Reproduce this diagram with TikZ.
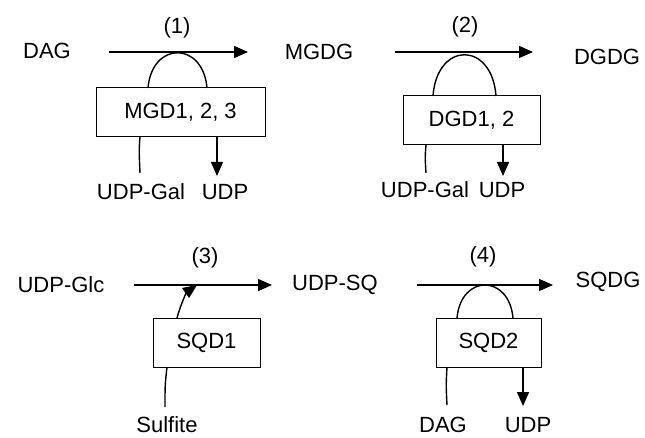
\documentclass[tikz,border=0pt]{standalone}
\usepackage{fontspec}
\setmainfont{Liberation Sans}
\usetikzlibrary{arrows.meta}

\tikzset{
	enzbox/.style={draw,line width=1pt,minimum height=49pt,inner sep=0pt},
	tip/.style={-{Triangle[length=14pt,width=12pt]}},
	lbl/.style={inner sep=0pt}
}

\begin{document}
\begin{tikzpicture}[x=1pt,y=-1pt,line width=1.4pt,font=\fontsize{22}{26}\selectfont]
	\useasboundingbox (0,0) rectangle (645,438);

	% metabolites
	\node (dag) [lbl] at (47,51) {DAG};
	\node (mgdg) [lbl] at (319,52) {MGDG};
	\node (dgdg) [lbl] at (607,57) {DGDG};
	\node (glc) [lbl] at (61,285) {UDP-Glc};
	\node (sq) [lbl] at (335,285) {UDP-SQ};
	\node (sqdg) [lbl] at (608,282) {SQDG};

	% reaction numbers
	\foreach \x/\y/\n in {177/28/1,465/27/2,205/258/3,483/257/4}
	\node (n\n) [lbl] at (\x,\y) {(\n)};

	% enzymes
	\foreach \x/\y/\w/\n/\t in {180.5/112.5/169/mgd/{MGD1, 2, 3},471.5/120.5/137/dgd/{DGD1, 2},206.5/342.5/107/sqda/SQD1,488.5/342.5/105/sqdb/SQD2}
	\node (\n) [enzbox,minimum width=\w pt] at (\x,\y) {\t};

	% cosubstrates
	\node (gal1) [lbl] at (141,192) {UDP-Gal};
	\node (udp1) [lbl] at (225,192) {UDP};
	\node (gal2) [lbl] at (425,190) {UDP-Gal};
	\node (udp2) [lbl] at (502,190) {UDP};
	\node (sulf) [lbl] at (167,425) {Sulfite};
	\node (dag2) [lbl] at (443,425) {DAG};
	\node (udp3) [lbl] at (528,425) {UDP};

	% main arrows
	\coordinate (a1) at (109,52);  \coordinate (b1) at (248,52);
	\coordinate (a2) at (395,52);  \coordinate (b2) at (533,52);
	\coordinate (a3) at (134,285); \coordinate (b3) at (272,285);
	\coordinate (a4) at (417,285); \coordinate (b4) at (553,285);
	\foreach \i in {1,...,4}
	\draw [tip] (a\i) -- (b\i);

	% arcs over the main arrows
	\draw (148,88) .. controls (152,41) and (203,41) .. (207,88);
	\draw (433,96) .. controls (437,41) and (492,41) .. (496,96);
	\draw (457,318) .. controls (461,274) and (509,274) .. (513,318);
	\draw [tip] (177,318) .. controls (181,303) and (187,292) .. (197,285);

	% side lines
	\coordinate (g1) at (140,173);  \coordinate (u1) at (217,176);
	\coordinate (g2) at (426,173);  \coordinate (u2) at (503,176);
	\coordinate (s1) at (165,407);
	\coordinate (d2) at (447,405);  \coordinate (u3) at (523,406);
	\draw (140,137) .. controls (139,150) .. (g1);
	\draw [tip] (217,137) -- (u1);
	\draw (426,145) .. controls (425,157) .. (g2);
	\draw [tip] (503,145) -- (u2);
	\draw (167,367) .. controls (165,385) .. (s1);
	\draw (447,367) .. controls (446,385) .. (d2);
	\draw [tip] (523,367) -- (u3);
\end{tikzpicture}
\end{document}
